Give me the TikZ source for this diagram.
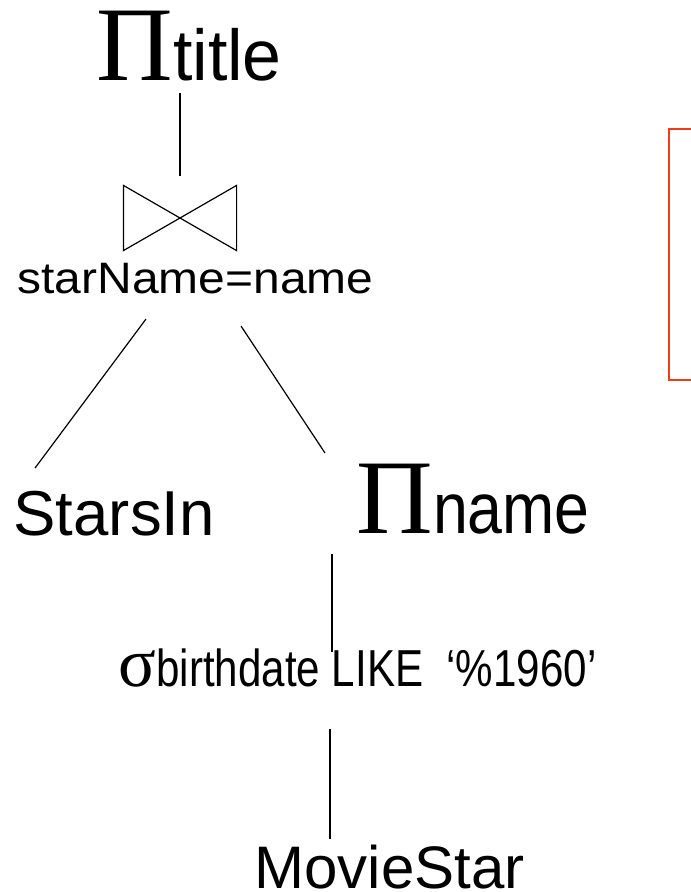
\documentclass[tikz,border=0pt]{standalone}
\usepackage{fontspec}
\usepackage{graphicx}
\setmainfont{Liberation Sans}
\newfontfamily\serifsym{Liberation Serif}
\newcommand\opsign[2]{{\serifsym\fontsize{#1}{#1}\selectfont #2}}
\newcommand\optext[3]{\scalebox{#2}[1]{\fontsize{#1}{#1}\selectfont #3}}
\begin{document}
\begin{tikzpicture}[x=1pt,y=-1pt,line width=1.2pt]
\definecolor{rouge}{RGB}{240,60,20}
\tikzset{lbl/.style={inner sep=0pt,anchor=base west}}
\useasboundingbox (0,0) rectangle (691,892);
% operateurs et relations
\node[lbl] (title) at (96,80) {\opsign{106}{Π}\optext{72}{0.97}{title}};
\node[inner sep=0pt,minimum width=112pt,minimum height=64pt] (join) at (180,218) {};
\draw (join.north west) -- (join.south east) -- (join.north east) -- (join.south west) -- cycle;
\node[lbl] (cond) at (17,293) {\optext{44}{1.09}{starName=name}};
\node[lbl] (stars) at (13,535) {\optext{63.5}{1}{StarsIn}};
\node[lbl] (proj) at (356,533) {\opsign{106}{Π}\optext{72}{0.87}{name}};
\node[lbl] (sel) at (118,686) {\opsign{70}{σ}\optext{52}{0.81}{birthdate LIKE\ \ ‘\%1960’}};
\node[lbl] (movie) at (254,888) {\optext{60}{1}{MovieStar}};
% aretes
\draw[shorten <=9pt,shorten >=13pt] (join.north) -- (join.north |- title.base);
\draw ([xshift=129pt,yshift=-25pt]cond.south west) -- ([xshift=22pt,yshift=22pt]stars.north west);
\draw ([xshift=224pt,yshift=-32pt]cond.south west) -- ([xshift=-31pt,yshift=10pt]proj.north west);
\draw ([xshift=-24pt,yshift=-20pt]proj.south west) -- ([xshift=214pt,yshift=-4pt]sel.north west);
\draw ([xshift=212pt,yshift=-42pt]sel.south west) -- ([xshift=76pt,yshift=5pt]movie.north west);
% encadre rouge
\draw[rouge,line width=1.5pt] (691,129) -- (669,129) -- (669,380) -- (691,380);
\end{tikzpicture}
\end{document}
